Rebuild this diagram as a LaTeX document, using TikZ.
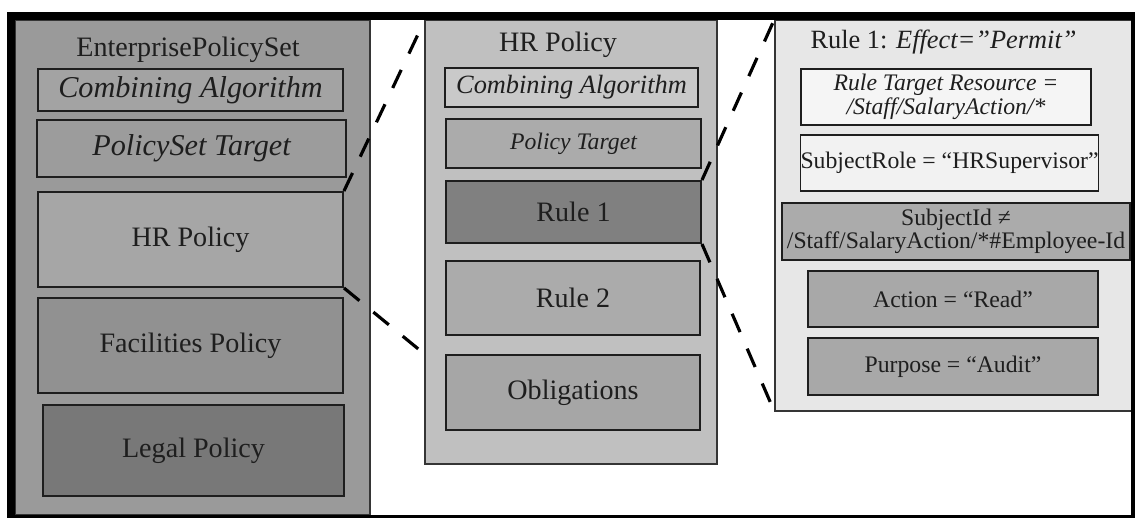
\documentclass[tikz,border=0pt]{standalone}
\usepackage{fontspec}
\setmainfont{Liberation Serif}
\usepackage{xcolor}
\definecolor{inkgray}{RGB}{30,30,30}
\definecolor{psetgray}{RGB}{154,154,154}
\definecolor{polgray}{RGB}{192,192,192}
\definecolor{rulegray}{RGB}{231,231,231}
\newcommand{\lblfont}{\fontsize{16}{19}\selectfont}
\newcommand{\wideitfont}{\fontsize{17.2}{20}\selectfont\itshape}
\newcommand{\midfont}{\fontsize{15}{18}\selectfont}
\newcommand{\smlfont}{\fontsize{13.5}{14}\selectfont}

\begin{document}
\begin{tikzpicture}[x=1cm, y=-1cm,
  panel/.style={draw=inkgray!90, line width=0.7pt, inner sep=0pt},
  cell/.style={draw=inkgray, line width=1.1pt, inner sep=0pt, align=center, text=inkgray},
  zoomline/.style={line width=1.8pt, dash pattern=on 0.4cm off 0.36cm},
  every node/.style={text=inkgray}]
  \useasboundingbox (0,0) rectangle (22.7,10.38);

  % policy set
  \node[panel, fill=psetgray, minimum width=7.1cm, minimum height=9.9cm] (pset) at (3.85,5.35) {};
  \node (psettitle) at (3.76,1.0) {\lblfont EnterprisePolicySet};
  \node[cell, fill=black!36, minimum width=6.1cm, minimum height=0.84cm] (lca) at (3.81,1.80) {\wideitfont Combining Algorithm};
  \node[cell, fill=black!39, minimum width=6.18cm, minimum height=1.14cm] (lpst) at (3.83,2.97) {\wideitfont PolicySet Target};
  \node[cell, fill=black!35, minimum width=6.1cm, minimum height=1.9cm] (lhr) at (3.81,4.79) {\lblfont HR Policy};
  \node[cell, fill=black!43, minimum width=6.1cm, minimum height=1.9cm] (lfac) at (3.81,6.91) {\lblfont Facilities Policy};
  \node[cell, fill=black!53, minimum width=6.02cm, minimum height=1.82cm] (llegal) at (3.87,9.01) {\lblfont Legal Policy};

  % HR policy
  \node[panel, fill=polgray, minimum width=5.84cm, minimum height=8.88cm] (pol) at (11.42,4.84) {};
  \node (poltitle) at (11.16,0.90) {\lblfont HR Policy};
  \node[cell, fill=black!21, minimum width=5.06cm, minimum height=0.78cm] (mca) at (11.43,1.75) {\midfont\itshape Combining Algorithm};
  \node[cell, fill=black!33, minimum width=5.1cm, minimum height=0.98cm] (mpt) at (11.47,2.87) {\smlfont\itshape Policy Target};
  \node[cell, fill=black!50, minimum width=5.1cm, minimum height=1.24cm] (mr1) at (11.47,4.24) {\lblfont Rule 1};
  \node[cell, fill=black!33, minimum width=5.08cm, minimum height=1.48cm] (mr2) at (11.46,5.96) {\lblfont Rule 2};
  \node[cell, fill=black!35, minimum width=5.08cm, minimum height=1.5cm] (mobl) at (11.46,7.85) {\lblfont Obligations};

  % rule 1 detail
  \node[panel, fill=rulegray, minimum width=7.16cm, minimum height=7.82cm] (rule) at (19.08,4.31) {};
  \node (ruletitle) at (18.87,0.84) {\midfont Rule 1: \textit{Effect=”Permit”}};
  \node[cell, fill=black!4, minimum width=5.8cm, minimum height=1.12cm] (rtgt) at (18.92,1.94) {\smlfont\itshape Rule Target Resource =\\ \smlfont\itshape /Staff/SalaryAction/*};
  \node[cell, fill=black!5, minimum width=5.82cm, minimum height=1.12cm] (rrole) at (18.99,3.26) {\smlfont SubjectRole = “HRSupervisor”};
  \node[cell, fill=black!33, minimum width=6.96cm, minimum height=1.14cm] (rsid) at (19.12,4.63) {\smlfont SubjectId ≠\\ \smlfont /Staff/SalaryAction/*\#Employee-Id};
  \node[cell, fill=black!34, minimum width=5.8cm, minimum height=1.12cm] (ract) at (19.06,5.98) {\smlfont Action = “Read”};
  \node[cell, fill=black!34, minimum width=5.8cm, minimum height=1.14cm] (rpur) at (19.06,7.33) {\smlfont Purpose = “Audit”};

  % outer frame
  \draw[line width=0.16cm] (0.14,0.32) -- (22.7,0.32);
  \draw[line width=0.16cm] (0.22,0.24) -- (0.22,10.36);
  \draw[line width=0.08cm] (22.66,0.24) -- (22.66,10.36);
  \draw[line width=0.06cm] (0.14,10.33) -- (22.7,10.33);

  % zoom-in lines
  \coordinate (poltop) at (8.42,0.56);
  \coordinate (polside) at (8.44,7.04);
  \draw[zoomline] (lhr.north east) -- (poltop);
  \draw[zoomline] (lhr.south east) -- (polside);
  \draw[zoomline] (mr1.north east) -- (rule.north west);
  \draw[zoomline] (mr1.south east) -- (rule.south west);
\end{tikzpicture}
\end{document}
